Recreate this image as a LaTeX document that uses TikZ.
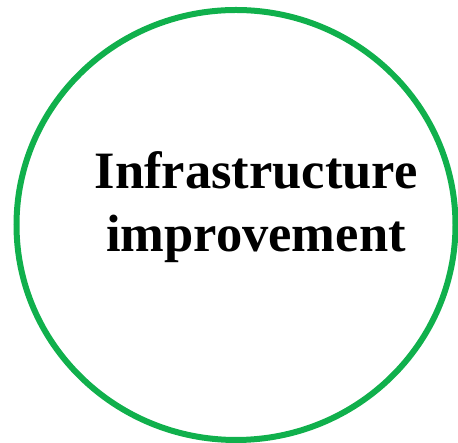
\documentclass[tikz,border=0pt]{standalone}
\usepackage{fontspec}
\setmainfont{Liberation Serif}
\definecolor{ringgreen}{RGB}{16,176,76}
\begin{document}
\begin{tikzpicture}[x=1pt,y=1pt,
  ring/.style={draw=ringgreen, line width=6pt},
  label/.style={font=\fontsize{52.5}{63}\selectfont\bfseries, align=center, inner sep=0pt}]
\useasboundingbox (0,0) rectangle (458,443);
\draw[ring] (236,218) ellipse [x radius=219.5, y radius=215];
\node[label] (title) at (256,236) {Infrastructure\\improvement};
\end{tikzpicture}
\end{document}
